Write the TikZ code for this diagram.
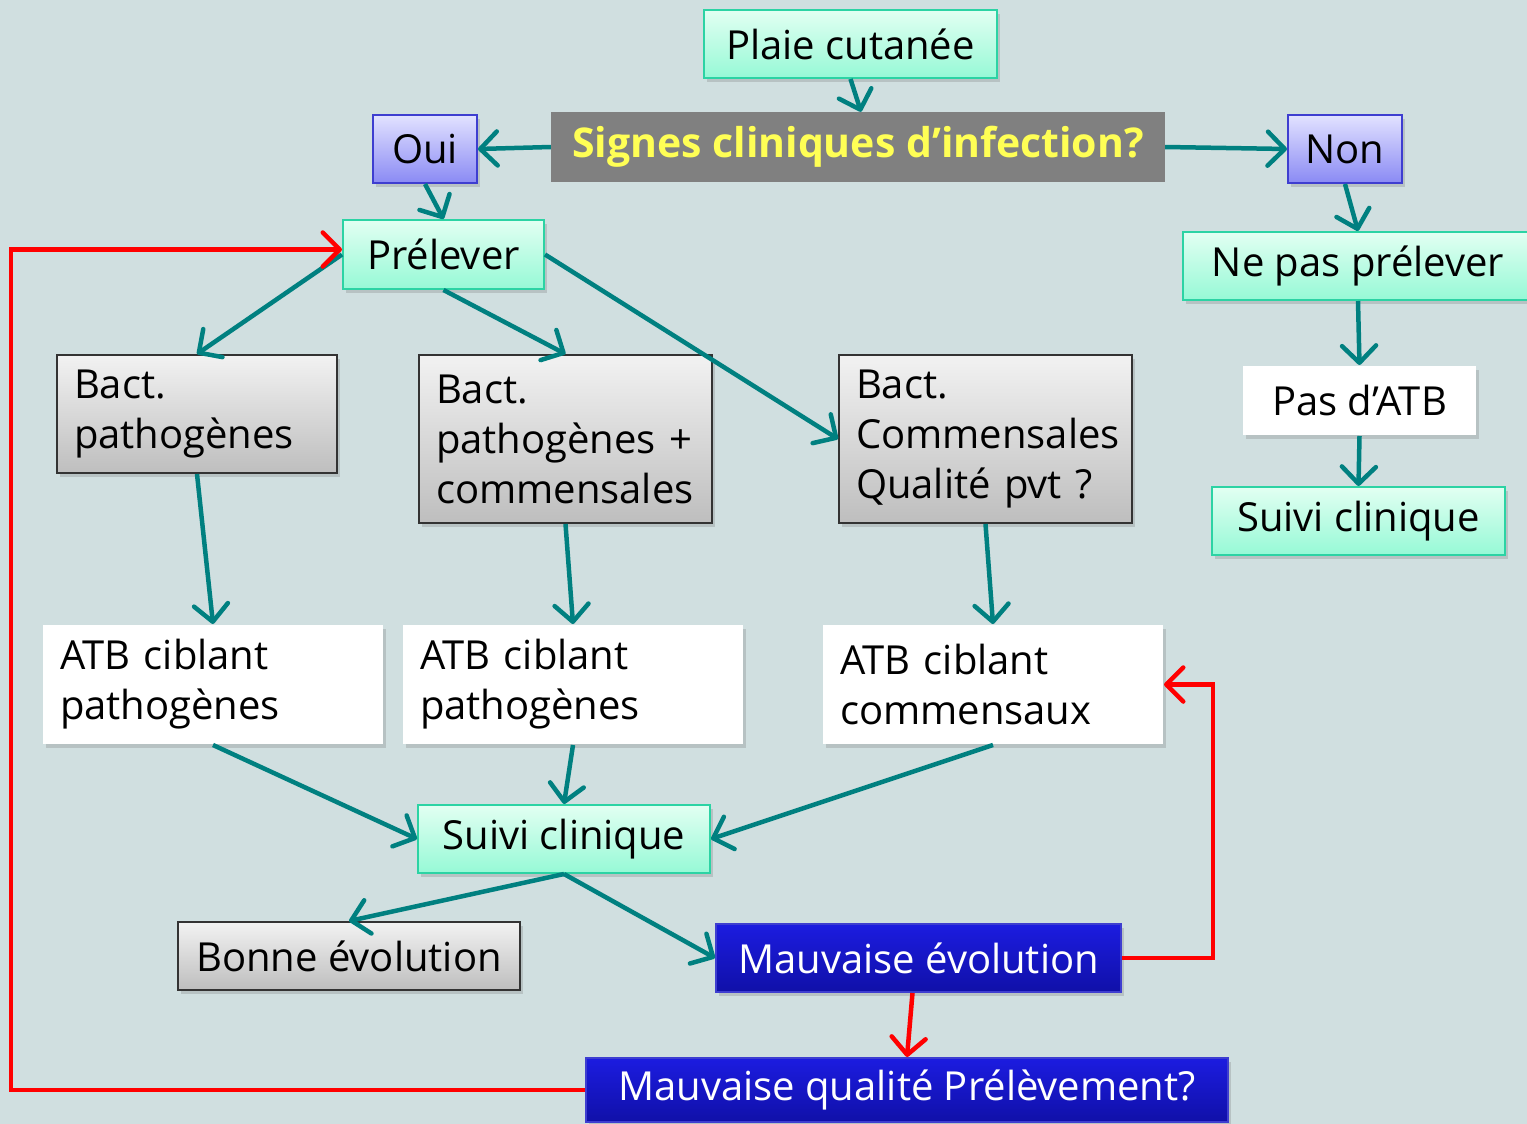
\documentclass[tikz,border=0pt]{standalone}
\usepackage{fontspec}
\setmainfont{Open Sans}
\usetikzlibrary{arrows.meta,shadows}
\definecolor{bg}{HTML}{D0DFE0}
\definecolor{tealA}{HTML}{008080}
\definecolor{mintT}{HTML}{E2FFF2}
\definecolor{mintB}{HTML}{96F9D6}
\definecolor{mintD}{HTML}{2CD3A4}
\definecolor{lavT}{HTML}{E2E2FF}
\definecolor{lavB}{HTML}{8A8AF4}
\definecolor{lavD}{HTML}{3E3ED0}
\definecolor{grayT}{HTML}{F2F2F2}
\definecolor{grayB}{HTML}{BEBEBE}
\definecolor{blueT}{HTML}{1C1CE0}
\definecolor{blueB}{HTML}{1010A8}
\definecolor{sigfill}{HTML}{808080}
\definecolor{sigtext}{HTML}{FFFF55}
\definecolor{redA}{HTML}{FF0000}
\tikzset{
  box/.style={line width=2pt, inner xsep=17pt, inner ysep=0pt, align=left,
    font=\fontsize{40}{50}\selectfont,
    drop shadow={opacity=0.3, shadow xshift=3pt, shadow yshift=-4pt}},
  mint/.style={box, align=center, draw=mintD, top color=mintT, bottom color=mintB},
  lav/.style={box, align=center, draw=lavD, top color=lavT, bottom color=lavB},
  grey/.style={box, draw=black!80, top color=grayT, bottom color=grayB},
  white/.style={box, draw=none, fill=white},
  blue/.style={box, align=center, draw=lavD, top color=blueT, bottom color=blueB, text=white},
  barb/.tip={Straight Barb[length=17pt,width=34pt,line width=4.5pt,round]},
  arr/.style={draw=tealA, line width=4.5pt, -barb},
  redarr/.style={draw=redA, line width=4.5pt, -barb},
}
% left-aligned box: style, name, cx, cy, w, h
\newcommand{\bx}[6]{%
  \node[#1, text width=#5pt-34pt, minimum height=#6pt] (#2) at (#3,#4)}
% centred box: style, name, cx, cy, w, h
\newcommand{\cb}[6]{%
  \node[#1, inner xsep=0pt, minimum width=#5pt, minimum height=#6pt] (#2) at (#3,#4)}
\begin{document}
\begin{tikzpicture}[x=1pt,y=-1pt]
\fill[bg] (0,0) rectangle (1527,1124);
\useasboundingbox (0,0) rectangle (1527,1124);
\begin{scope}
\clip (0,0) rectangle (1527,1124);
\cb{mint}{plaie}{850.5}{44}{293}{68} {Plaie cutanée};
\node[fill=sigfill, text=sigtext, font=\fontsize{41}{50}\selectfont\bfseries,
  minimum width=614pt, minimum height=70pt, inner sep=0pt] (sig) at (858,147) {Signes cliniques d’infection?};
\cb{lav}{oui}{425}{149}{104}{68} {Oui};
\cb{lav}{non}{1345}{149}{114}{68} {Non};
\cb{mint}{prel}{443.5}{254.5}{201}{69} {Prélever};
\cb{mint}{nep}{1358}{266}{350}{68} {Ne pas prélever};
\cb{white}{pasatb}{1359.5}{400.5}{233}{69} {Pas d’ATB};
\cb{mint}{suivR}{1358.5}{521}{293}{68} {Suivi clinique};
\bx{grey}{b1}{197}{414}{280}{118} {Bact.\\pathogènes};
\bx{grey}{b2}{565.5}{439}{293}{168} {Bact.\\pathogènes +\\commensales};
\bx{grey}{b3}{985.5}{439}{293}{168} {Bact.\\Commensales\\Qualité pvt ?};
\bx{white}{a1}{213}{684.5}{340}{119} {ATB ciblant\\pathogènes};
\bx{white}{a2}{573}{684.5}{340}{119} {ATB ciblant\\pathogènes};
\bx{white}{a3}{993}{684.5}{340}{119} {ATB ciblant\\commensaux};
\cb{mint}{suiv}{564}{839}{292}{68} {Suivi clinique};
\cb{grey}{bonne}{349}{956}{342}{68} {Bonne évolution};
\cb{blue}{mauv}{918.5}{958}{405}{68} {Mauvaise évolution};
\cb{blue}{mq}{907}{1090}{642}{64} {Mauvaise qualité Prélèvement?};
% connectors
\draw[arr] (plaie.south) -- ([xshift=3pt]sig.north);
\draw[arr] (sig.west) -- (oui.east);
\draw[arr] (sig.east) -- (non.west);
\draw[arr] (oui.south) -- (prel.north);
\draw[arr] (non.south) -- (nep.north);
\draw[arr] (nep.south) -- (pasatb.north);
\draw[arr] (pasatb.south) -- (suivR.north);
\draw[arr] (prel.west) -- (b1.north);
\draw[arr] (prel.south) -- (b2.north);
\draw[arr] (prel.east) -- (b3.west);
\draw[arr] (b1.south) -- (a1.north);
\draw[arr] (b2.south) -- (a2.north);
\draw[arr] (b3.south) -- (a3.north);
\draw[arr] (a1.south) -- (suiv.west);
\draw[arr] (a2.south) -- (suiv.north);
\draw[arr] (a3.south) -- (suiv.east);
\draw[arr] (suiv.south) -- (bonne.north);
\draw[arr] (suiv.south) -- (mauv.west);
\draw[redarr] (mauv.east) -- (1213,958) |- (a3.east);
\draw[redarr] ([xshift=-6pt]mauv.south) -- (mq.north);
\draw[redarr] (mq.west) -- (11,1090) |- ([yshift=5pt]prel.west);
\end{scope}
\end{tikzpicture}
\end{document}
